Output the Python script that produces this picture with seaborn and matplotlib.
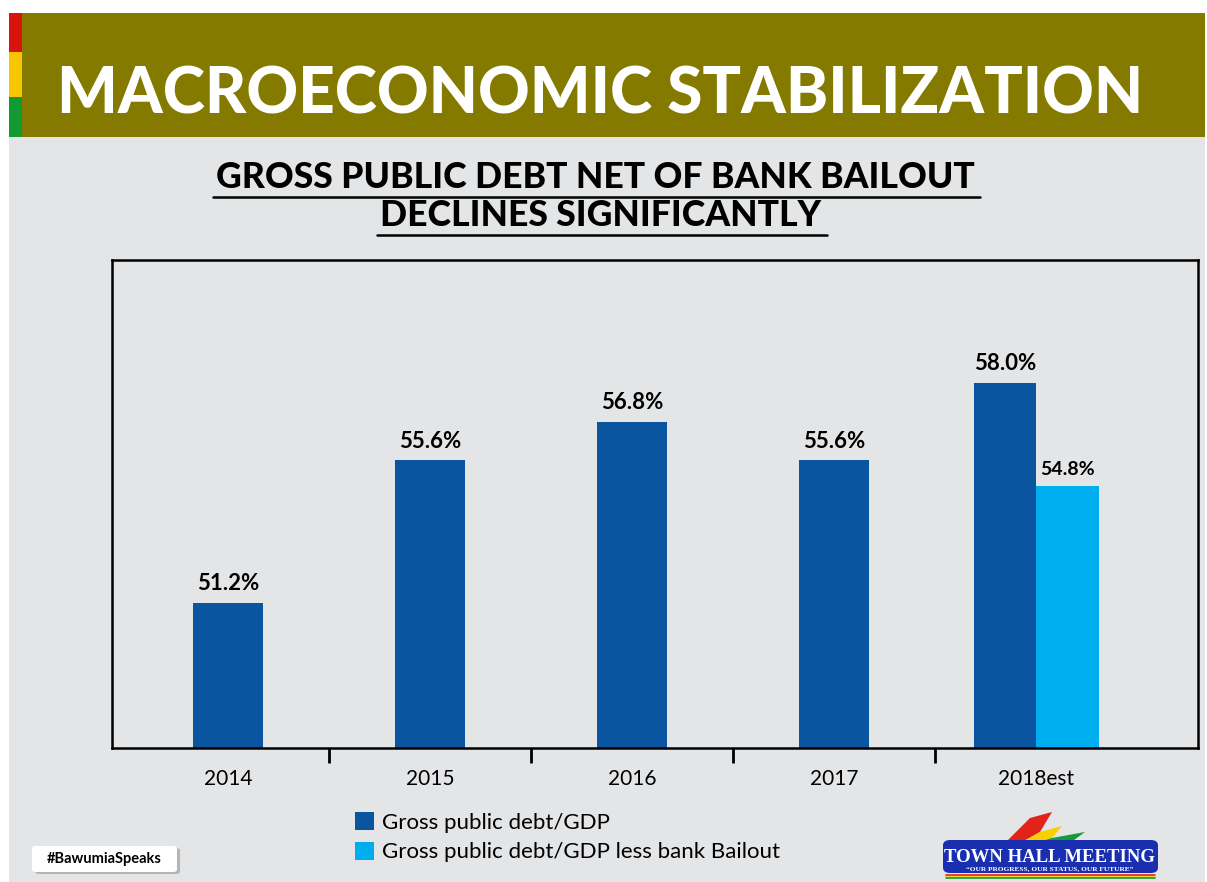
import numpy as np
import pandas as pd
import matplotlib
matplotlib.use("Agg")
import matplotlib.pyplot as plt
from matplotlib.patches import Rectangle, Polygon, Patch, FancyBboxPatch
from matplotlib.lines import Line2D
import seaborn as sns

# ---- data ----
years = ["2014", "2015", "2016", "2017", "2018est"]
gross_debt = [51.2, 55.6, 56.8, 55.6, 58.0]
debt_less_bailout = [np.nan, np.nan, np.nan, np.nan, 54.8]
series_names = ["Gross public debt/GDP", "Gross public debt/GDP less bank Bailout"]

W, H = 1207, 882
DARK = "#0a559f"
LIGHT = "#00adee"
BG = "#e4e5e7"
OLIVE = "#857a00"

sns.set_theme(style="white")
plt.rcParams["font.family"] = ["Lato", "DejaVu Sans"]
plt.rcParams["text.color"] = "black"


def fx(x):
    return x / W


def fy(y):
    return 1 - y / H


fig = plt.figure(figsize=(W / 100, H / 100), dpi=100)
fig.patch.set_facecolor("white")

# page background and header banner
fig.add_artist(Rectangle((fx(9), 0), fx(1196), fy(137), transform=fig.transFigure,
                         facecolor=BG, edgecolor="none", zorder=0))
fig.add_artist(Rectangle((fx(9), fy(137)), fx(1196), (137 - 13) / H, transform=fig.transFigure,
                         facecolor=OLIVE, edgecolor="none", zorder=1))
for y0, y1, c in [(13, 52, "#d9140f"), (52, 97, "#f7c600"), (97, 137, "#109a30")]:
    fig.add_artist(Rectangle((fx(9), fy(y1)), fx(13), (y1 - y0) / H, transform=fig.transFigure,
                             facecolor=c, edgecolor="none", zorder=2))

fig.text(fx(600), fy(113), "MACROECONOMIC STABILIZATION", ha="center", va="baseline",
         color="white", fontsize=46, fontweight="black", zorder=3)

sub1 = fig.text(fx(595), fy(188), "GROSS PUBLIC DEBT NET OF BANK BAILOUT", ha="center",
                va="baseline", color="black", fontsize=25.6, fontweight="black")
sub2 = fig.text(fx(600), fy(226), "DECLINES SIGNIFICANTLY", ha="center",
                va="baseline", color="black", fontsize=25.6, fontweight="black")

# ---- chart ----
ax = fig.add_axes([fx(112), fy(748), fx(1198 - 112), (748 - 260) / H])
ax.patch.set_alpha(0)

df = pd.DataFrame({
    "year": years * 2,
    "series": [series_names[0]] * len(years) + [series_names[1]] * len(years),
    "value": gross_debt + debt_less_bailout,
}).dropna()

sns.barplot(data=df, x="year", y="value", hue="series", order=years,
            hue_order=series_names, palette=[DARK, LIGHT], width=0.62,
            dodge=True, saturation=1, legend=False, ax=ax)

# bars without a companion series are centred on their category
paired = set(df.loc[df["series"] == series_names[1], "year"])
single_w = 0.345
for bar in ax.containers[0]:
    cx = bar.get_x() + bar.get_width()
    idx = int(round(cx))
    if years[idx] not in paired:
        bar.set_x(idx - single_w / 2)
        bar.set_width(single_w)
    bar.set_edgecolor("none")
for bar in ax.containers[1]:
    bar.set_edgecolor("none")

ax.bar_label(ax.containers[0], fmt="%.1f%%", padding=6, fontsize=16, fontweight="bold",
             color="black")
ax.bar_label(ax.containers[1], fmt="%.1f%%", padding=6, fontsize=14, fontweight="bold",
             color="black")

ax.set_ylim(46.7, 61.8)
ax.set_xlim(-0.574, 4.80)
ax.set_yticks([])
ax.set_xlabel("")
ax.set_ylabel("")
ax.set_xticks(range(len(years)))
ax.set_xticklabels(years, fontsize=15, color="black")
ax.set_xticks([i + 0.5 for i in range(len(years) - 1)], minor=True)
ax.tick_params(axis="x", which="major", length=0, pad=15, colors="black")
ax.tick_params(axis="x", which="minor", direction="out", length=11, width=2, color="black",
               bottom=True)
for s in ax.spines.values():
    s.set_visible(True)
    s.set_color("black")
    s.set_linewidth(1.8)

handles = [Patch(facecolor=DARK, edgecolor="none"), Patch(facecolor=LIGHT, edgecolor="none")]
fig.legend(handles, series_names, loc="upper left", bbox_to_anchor=(fx(355), fy(812)),
           frameon=False, fontsize=16, handlelength=0.85, handleheight=0.85,
           handletextpad=0.35, labelspacing=0.42, borderpad=0, borderaxespad=0)

# hashtag badge
fig.add_artist(FancyBboxPatch((fx(35), fy(874)), fx(145), 26 / H,
                              boxstyle="round,pad=0,rounding_size=0.003",
                              transform=fig.transFigure, facecolor="#b5b5b5",
                              edgecolor="none", zorder=2))
fig.add_artist(FancyBboxPatch((fx(32), fy(872)), fx(145), 26 / H,
                              boxstyle="round,pad=0,rounding_size=0.003",
                              transform=fig.transFigure, facecolor="white",
                              edgecolor="none", zorder=3))
fig.text(fx(104.5), fy(859), "#BawumiaSpeaks", ha="center", va="center", fontsize=10.5,
         fontweight="bold", color="black", zorder=4)

# town hall badge
flag_specs = [
    ([(1008, 840), (1030, 818), (1052, 812), (1040, 832), (1022, 842)], "#e2231a"),
    ([(1022, 842), (1040, 832), (1062, 826), (1052, 838), (1035, 843)], "#f8d000"),
    ([(1035, 843), (1052, 838), (1085, 832), (1070, 843)], "#139a3b"),
]
for pts, c in flag_specs:
    fig.add_artist(Polygon([(fx(x), fy(y)) for x, y in pts], closed=True,
                           transform=fig.transFigure, facecolor=c, edgecolor="none", zorder=3))
fig.add_artist(FancyBboxPatch((fx(943), fy(873)), fx(215), 33 / H,
                              boxstyle="round,pad=0,rounding_size=0.006",
                              transform=fig.transFigure, facecolor="#1a2fb0",
                              edgecolor="none", zorder=4))
fig.text(fx(1050), fy(862), "TOWN HALL MEETING", ha="center", va="baseline", fontsize=13.5,
         fontweight="bold", family="Liberation Serif", color="white", zorder=5)
fig.text(fx(1050), fy(870), "\u201cOUR PROGRESS, OUR STATUS, OUR FUTURE\u201d", ha="center",
         va="baseline", fontsize=5.3, fontweight="bold", family="Liberation Serif",
         color="white", zorder=6)
for yy, c in [(875, "#e2231a"), (876.5, "#f8d000"), (878, "#139a3b")]:
    fig.add_artist(Line2D([fx(946), fx(1155)], [fy(yy), fy(yy)], transform=fig.transFigure,
                          color=c, linewidth=1.2, zorder=4))

# underline the subtitle lines
fig.canvas.draw()
renderer = fig.canvas.get_renderer()
for t in (sub1, sub2):
    bb = t.get_window_extent(renderer)
    y = bb.y0 - 3
    fig.add_artist(Line2D([bb.x0 - 3, bb.x1 + 6], [y, y], transform=None,
                          color="black", linewidth=1.8))

fig.savefig("out.png", dpi=100)
